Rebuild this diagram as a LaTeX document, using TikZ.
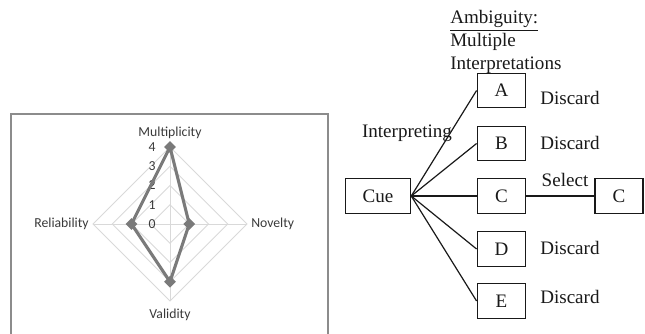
\documentclass[tikz,border=0pt]{standalone}
\usepackage{fontspec}
\setmainfont{Liberation Serif}
\newfontfamily\chartfont{Carlito}
\usepackage{tikz}
\usepackage{xcolor}
\usetikzlibrary{shapes.geometric}
\definecolor{gridgray}{HTML}{D9D9D9}
\definecolor{framegray}{HTML}{8C8C8C}
\definecolor{seriesgray}{HTML}{7A7A7A}
\definecolor{labelgray}{HTML}{3A3A3A}

\begin{document}
\begin{tikzpicture}[x=0.75pt,y=0.75pt,
  box/.style={draw=black!90,line width=0.9pt,minimum height=26pt,text=black!90,font=\fontsize{14.3}{17}\selectfont},
  word/.style={inner sep=0pt,text=black!90,font=\fontsize{14.3}{17}\selectfont},
  axislabel/.style={inner sep=0pt,text=labelgray,font=\chartfont\fontsize{10.3}{11}\selectfont},
  datapoint/.style={diamond,fill=seriesgray,inner sep=0pt,minimum size=9pt}]
\useasboundingbox (0,0) rectangle (645,333);

% chart frame (open at the bottom)
\draw[framegray,line width=1.1pt] (11,-2) -- (11,219) -- (328,219) -- (328,-2);

% radar grid
\foreach \r in {19.25,38.5,57.75,77}
  \draw[gridgray,line width=0.7pt] (170+\r,109) -- (170,109+\r) -- (170-\r,109) -- (170,109-\r) -- cycle;
\draw[gridgray,line width=0.7pt] (93,109) -- (247,109);
\draw[gridgray,line width=0.7pt] (170,32) -- (170,186);

% tick values
\foreach \v in {0,...,4}
  \node[axislabel] (tick\v) at (152,109+19.25*\v) {\v};

% axis labels
\node[axislabel] (mult) at (170,200) {Multiplicity};
\node[axislabel,anchor=west] (novelty) at (251,109) {Novelty};
\node[axislabel] (validity) at (170,18) {Validity};
\node[axislabel,anchor=east] (reliab) at (89,109) {Reliability};

% data series
\coordinate (pm) at (170,186);
\coordinate (pn) at (189.25,109);
\coordinate (pv) at (170,51.25);
\coordinate (pr) at (131.5,109);
\draw[seriesgray,line width=2.3pt,line join=round] (pm) -- (pn) -- (pv) -- (pr) -- cycle;
\foreach \p in {pm,pn,pv,pr}
  \node[datapoint] at (\p) {};

% interpretation tree
\node[box,minimum width=49pt] (cue) at (378,137) {Cue};
\node[box,minimum width=36.5pt] (a) at (501.5,242.5) {A};
\node[box,minimum width=36.5pt] (b) at (501.5,189.5) {B};
\node[box,minimum width=36.5pt] (c) at (501.5,137) {C};
\node[box,minimum width=36.5pt] (d) at (501.5,84) {D};
\node[box,minimum width=36.5pt] (e) at (501.5,32) {E};
\node[box,minimum width=36pt] (chosen) at (619,137) {C};

\draw[black!90,line width=0.9pt] (cue.east) -- (a.west);
\draw[black!90,line width=0.9pt] (cue.east) -- (b.west);
\draw[black!90,line width=0.9pt] (cue.east) -- (c.west);
\draw[black!90,line width=0.9pt] (cue.east) -- (d.west);
\draw[black!90,line width=0.9pt] (cue.east) -- (e.west);
\draw[black!90,line width=0.9pt] (c) -- (chosen);

\node[word,anchor=west] (discA) at (540,235) {Discard};
\node[word,anchor=west] (discB) at (540,190) {Discard};
\node[word,anchor=west] (discD) at (540,85) {Discard};
\node[word,anchor=west] (discE) at (540,36) {Discard};
\node[word] (select) at (565,153) {Select};
\node[word] (interp) at (407,200) {Interpreting};
\node[word,anchor=west,align=left] (ambig) at (450,291) {\underline{Ambiguity:}\\Multiple\\Interpretations};
\end{tikzpicture}
\end{document}
